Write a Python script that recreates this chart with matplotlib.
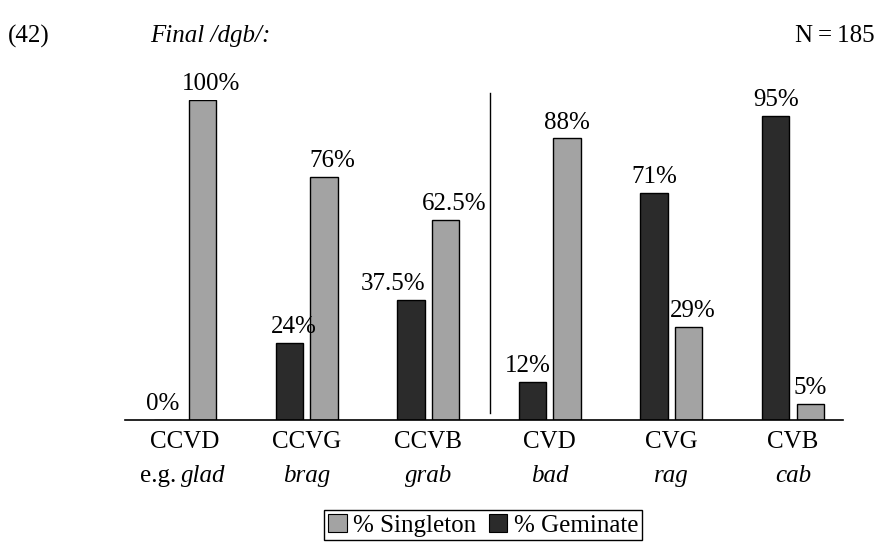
import matplotlib
matplotlib.use("Agg")
import matplotlib.pyplot as plt
from matplotlib.patches import Patch

categories = ["CCVD", "CCVG", "CCVB", "CVD", "CVG", "CVB"]
examples = ["glad", "brag", "grab", "bad", "rag", "cab"]
singleton = [100, 76, 62.5, 88, 29, 5]
geminate = [0, 24, 37.5, 12, 71, 95]
single_labels = ["100%", "76%", "62.5%", "88%", "29%", "5%"]
gem_labels = ["0%", "24%", "37.5%", "12%", "71%", "95%"]

# label horizontal nudges in pixels (layout only)
single_nudge = [9, 8, 9, 0, 4, 0]
gem_nudge = [-5, 4, -18, -5, 0, 0]

W, H = 881, 543
plt.rcParams['font.family'] = ['Liberation Serif', 'DejaVu Serif']
fig = plt.figure(figsize=(W / 100, H / 100), dpi=100)

left_px, right_px = 125, 843
base_px, top_px = 420, 100
ax = fig.add_axes([left_px / W, (H - base_px) / H, (right_px - left_px) / W, (base_px - top_px) / H])
c0, step = 185, 121.6
ax.set_xlim((left_px - c0) / step, (right_px - c0) / step)
ax.set_ylim(0, 100)

grey = "#a3a3a3"
dark = "#2b2b2b"
w = 0.225
off = 0.142
x = list(range(len(categories)))
gx = [i - off for i in x]
sx = [i + off for i in x]
ax.bar(gx, geminate, width=w, color=dark, edgecolor="black", linewidth=1.0)
ax.bar(sx, singleton, width=w, color=grey, edgecolor="black", linewidth=1.0)

fs = 18
for xi, v, lab, nd in zip(gx, geminate, gem_labels, gem_nudge):
    ax.text(xi + nd / step, v + 1.5, lab, ha="center", va="bottom", fontsize=fs, clip_on=False)
for xi, v, lab, nd in zip(sx, singleton, single_labels, single_nudge):
    ax.text(xi + nd / step, v + 1.5, lab, ha="center", va="bottom", fontsize=fs, clip_on=False)

for s in ["top", "right", "left"]:
    ax.spines[s].set_visible(False)
ax.spines["bottom"].set_linewidth(1.2)
ax.set_yticks([])
ax.set_xticks(x)
ax.set_xticklabels(categories, fontsize=fs)
ax.tick_params(axis="x", length=0, pad=8)

# separator line
sep_x = (490 - c0) / step
ax.plot([sep_x, sep_x], [(base_px - 413) / 3.2, (base_px - 93) / 3.2], color="black", linewidth=1.0, clip_on=False)

# example words
ex_y = 1 - 476 / H
for i, wd in enumerate(examples):
    fx = (c0 + step * i) / W
    if i == 0:
        fx = 203 / W
    fig.text(fx, ex_y, wd, ha="center", va="center", fontsize=fs, style="italic")
fig.text(158 / W, ex_y, "e.g.", ha="center", va="center", fontsize=fs)

# header
hy = 1 - 36 / H
fig.text(8 / W, hy, "(42)", ha="left", va="center", fontsize=fs)
fig.text(150 / W, hy, "Final /dgb/:", ha="left", va="center", fontsize=fs, style="italic")
fig.text(875 / W, hy, "N\u2009=\u2009185", ha="right", va="center", fontsize=fs)

handles = [Patch(facecolor=grey, edgecolor="black", linewidth=0.8),
           Patch(facecolor=dark, edgecolor="black", linewidth=0.8)]
leg = fig.legend(handles, ["% Singleton", "% Geminate"], loc="upper center",
                 bbox_to_anchor=(483 / W, 33 / H), ncol=2, fontsize=fs,
                 frameon=True, fancybox=False, edgecolor="black", framealpha=1,
                 handlelength=0.75, handleheight=0.75, handletextpad=0.25,
                 columnspacing=0.5, borderpad=0.15, borderaxespad=0)
leg.get_frame().set_linewidth(1.0)

fig.savefig("out.png", dpi=100)
